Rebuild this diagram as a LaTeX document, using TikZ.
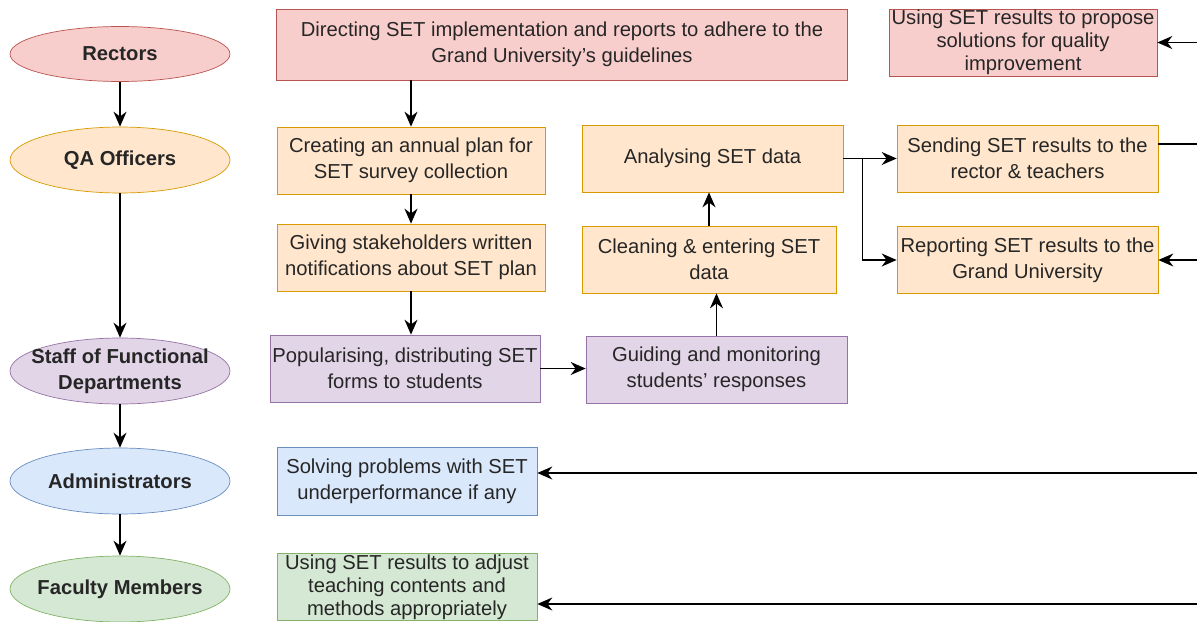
\documentclass[tikz,border=0pt]{standalone}
\usepackage{fontspec}
\setmainfont{Liberation Sans}
\usetikzlibrary{shapes.geometric,arrows.meta}
\definecolor{rosefill}{HTML}{F8CECC}\definecolor{roseline}{HTML}{B85450}
\definecolor{peachfill}{HTML}{FFE6CC}\definecolor{peachline}{HTML}{D79B00}
\definecolor{lilacfill}{HTML}{E1D5E7}\definecolor{lilacline}{HTML}{9673A6}
\definecolor{skyfill}{HTML}{DAE8FC}\definecolor{skyline}{HTML}{6C8EBF}
\definecolor{sagefill}{HTML}{D5E8D4}\definecolor{sageline}{HTML}{82B366}

\begin{document}
\begin{tikzpicture}[x=0.02cm,y=-0.02cm,
    every node/.style={font=\fontsize{11.5}{14.7}\selectfont,text=black!85},
    rolename/.style={align=center,font=\fontsize{11.5}{14.7}\selectfont\bfseries},
    actor/.style={ellipse,draw,minimum width=4.4cm,minimum height=1.32cm,inner sep=0pt,
                  label={[rolename]center:#1}},
    task/.style={rectangle,draw,minimum height=1.34cm,inner sep=1pt,align=center},
    triple/.style={inner ysep=0pt,font=\fontsize{11.5}{13}\selectfont},
    rector/.style={fill=rosefill,draw=roseline},
    qa/.style={fill=peachfill,draw=peachline},
    staff/.style={fill=lilacfill,draw=lilacline},
    admin/.style={fill=skyfill,draw=skyline},
    faculty/.style={fill=sagefill,draw=sageline},
    link/.style={draw,line width=0.8pt,-{Stealth[length=3mm,width=2.6mm]}}]
\useasboundingbox (0,0) rectangle (1197,622);

% roles
\node[actor={Rectors},rector,minimum height=1.1cm] (rectors) at (120,54) {};
\node[actor={QA Officers},qa]                        (qa)      at (120,160) {};
\node[actor={Staff of Functional\\Departments},staff] (staff)  at (120,371) {};
\node[actor={Administrators},admin]                  (admins)  at (120,481) {};
\node[actor={Faculty Members},faculty]               (faculty) at (120,589) {};

% tasks
\node[task,rector,minimum width=11.42cm,minimum height=1.42cm] (direct) at (562,44.5)
  {Directing SET implementation and reports to adhere to the\\Grand University's guidelines};
\node[task,rector,triple,minimum width=5.36cm] (propose) at (1023,42.5)
  {Using SET results to propose\\solutions for quality\\improvement};
\node[task,qa,minimum width=5.36cm] (plan)    at (411,160.5) {Creating an annual plan for\\SET survey collection};
\node[task,qa,minimum width=5.36cm] (notify)  at (411,257.5) {Giving stakeholders written\\notifications about SET plan};
\node[task,qa,minimum width=5.22cm] (analyse) at (712.5,158.5) {Analysing SET data};
\node[task,qa,minimum width=5.08cm] (clean)   at (709,259.5) {Cleaning \& entering SET\\data};
\node[task,qa,minimum width=5.22cm] (send)    at (1027.5,158.5) {Sending SET results to the\\rector \& teachers};
\node[task,qa,minimum width=5.22cm] (report)  at (1027.5,260) {Reporting SET results to the\\Grand University};
\node[task,staff,minimum width=5.4cm]  (popular) at (405,368.5) {Popularising, distributing SET\\forms to students};
\node[task,staff,minimum width=5.22cm] (guide)   at (716.5,369.5) {Guiding and monitoring\\students' responses};
\node[task,admin,minimum width=5.2cm,minimum height=1.36cm] (solve) at (407,481)
  {Solving problems with SET\\underperformance if any};
\node[task,faculty,triple,minimum width=5.2cm] (adjust) at (407,587)
  {Using SET results to adjust\\teaching contents and\\methods appropriately};

% loose ends at the right border
\coordinate (edgeA) at (1197,42.5);
\coordinate (edgeB) at (1197,144);
\coordinate (edgeC) at (1197,260);
\coordinate (edgeD) at (1197,473);
\coordinate (edgeE) at (1197,604);

% connectors
\draw[link] (rectors.south) -- (qa.north);
\draw[link] (qa.south) -- (staff.north);
\draw[link] (staff.south) -- (admins.north);
\draw[link] (admins.south) -- (faculty.north);
\draw[link] (plan.north |- direct.south) -- (plan.north);
\draw[link] (plan) -- (notify);
\draw[link] (notify.south) -- (notify.south |- popular.north);
\draw[link] (popular.east) -- (popular.east -| guide.west);
\draw[link] (guide.north) -- (guide.north |- clean.south);
\draw[link] (clean.north) -- (clean.north |- analyse.south);
\draw[link] (analyse.east) -- (send.west);
\draw[link] (analyse.east) -- ++(19,0) |- (report.west);
\draw[line width=0.8pt] (edgeB -| send.east) -- (edgeB);
\draw[link] (edgeA) -- (propose.east);
\draw[link] (edgeC) -- (report.east);
\draw[link] (edgeD) -- (edgeD -| solve.east);
\draw[link] (edgeE) -- (edgeE -| adjust.east);
\end{tikzpicture}
\end{document}
